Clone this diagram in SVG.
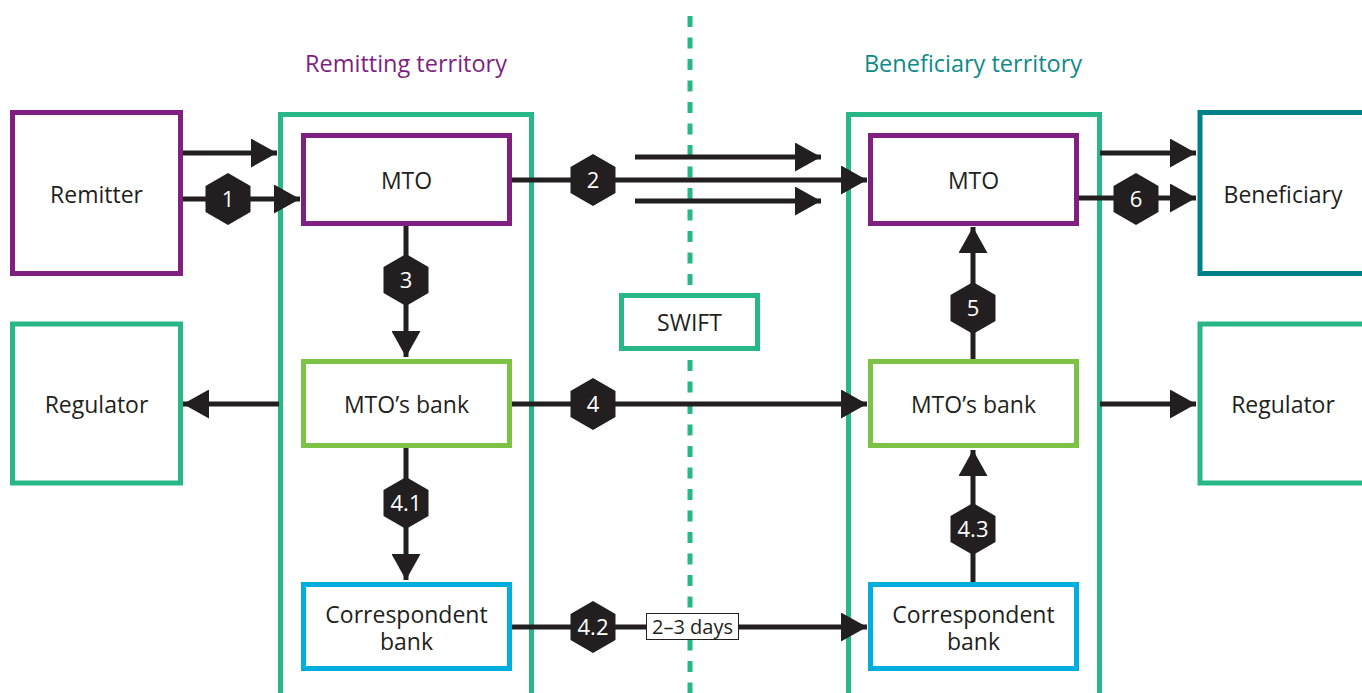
<svg xmlns="http://www.w3.org/2000/svg" xmlns:xlink="http://www.w3.org/1999/xlink" width="1362" height="693" viewBox="0 0 1362 693">
  <style>
    .box { fill: #ffffff; stroke-width: 5; }
    .purple { stroke: #7f1f80; }
    .green { stroke: #28b888; }
    .lime { stroke: #7cc244; }
    .cyan { stroke: #00aedd; }
    .teal { stroke: #008087; }
    .zone { fill: none; stroke: #28b888; stroke-width: 5; }
    .label { font-family: "Open Sans", "Noto Sans", sans-serif; font-size: 23px; fill: #231f20; text-anchor: middle; }
    .title { font-family: "Open Sans", "Noto Sans", sans-serif; font-size: 23.5px; text-anchor: middle; }
    .flow { fill: none; stroke: #231f20; stroke-width: 5; marker-end: url(#head); }
    .badge { fill: #231f20; }
    .num { font-family: "Open Sans", "Noto Sans", sans-serif; font-size: 22px; fill: #ffffff; text-anchor: middle; }
    .divider { stroke: #28b888; stroke-width: 5; stroke-dasharray: 11 10.5; }
  </style>
  <defs>
    <marker id="head" markerUnits="userSpaceOnUse" viewBox="0 0 26 29" refX="26" refY="14.5" markerWidth="26" markerHeight="29" orient="auto">
      <path d="M0,0 L26,14.5 L0,29 Z" fill="#231f20"/>
    </marker>
    <path id="hex" d="M0,-26 L22.5,-13 L22.5,13 L0,26 L-22.5,13 L-22.5,-13 Z"/>
  </defs>

  <rect width="1362" height="693" fill="#ffffff"/>

  <!-- territory divider -->
  <line class="divider" x1="690" y1="16" x2="690" y2="693"/>

  <!-- territory headings -->
  <text class="title" x="406" y="72" fill="#7f1f80">Remitting territory</text>
  <text class="title" x="973" y="72" fill="#0f8a88">Beneficiary territory</text>

  <!-- territory containers -->
  <g id="remitting-territory">
    <rect class="zone" x="280.5" y="114.5" width="251" height="600"/>
  </g>
  <g id="beneficiary-territory">
    <rect class="zone" x="848.5" y="114.5" width="251" height="600"/>
  </g>

  <!-- connectors -->
  <g id="connectors">
    <path class="flow" d="M181,153 H277"/>
    <path class="flow" d="M181,199 H300"/>
    <path class="flow" d="M511,180 H867"/>
    <path class="flow" d="M635,157 H821"/>
    <path class="flow" d="M635,201 H821"/>
    <path class="flow" d="M1100,153 H1196"/>
    <path class="flow" d="M1077,198 H1196"/>
    <path class="flow" d="M406,225 V357"/>
    <path class="flow" d="M279,404 H183"/>
    <path class="flow" d="M511,404 H867"/>
    <path class="flow" d="M1100,404 H1196"/>
    <path class="flow" d="M406,448 V580"/>
    <path class="flow" d="M511,627 H867"/>
    <path class="flow" d="M973,582 V450"/>
    <path class="flow" d="M973,359 V227"/>

    <!-- step badges -->
    <g class="badge">
      <use xlink:href="#hex" x="228" y="199"/>
      <use xlink:href="#hex" x="593" y="180"/>
      <use xlink:href="#hex" x="406" y="280"/>
      <use xlink:href="#hex" x="593" y="404"/>
      <use xlink:href="#hex" x="406" y="503"/>
      <use xlink:href="#hex" x="593" y="627"/>
      <use xlink:href="#hex" x="973" y="529"/>
      <use xlink:href="#hex" x="973" y="308"/>
      <use xlink:href="#hex" x="1136" y="199"/>
    </g>
    <text class="num" x="228" y="207">1</text>
    <text class="num" x="593" y="188">2</text>
    <text class="num" x="406" y="288">3</text>
    <text class="num" x="593" y="412">4</text>
    <text class="num" x="406" y="511">4.1</text>
    <text class="num" x="593" y="635">4.2</text>
    <text class="num" x="973" y="537">4.3</text>
    <text class="num" x="973" y="316">5</text>
    <text class="num" x="1136" y="207">6</text>

    <!-- transfer time note -->
    <rect x="646.5" y="613.5" width="92" height="26" fill="#ffffff" stroke="#231f20" stroke-width="1"/>
    <text x="692.5" y="634" font-family="'Open Sans', 'Noto Sans', sans-serif" font-size="20" fill="#231f20" text-anchor="middle">2–3 days</text>
  </g>

  <!-- remitting side -->
  <g id="remitter">
    <rect class="box purple" x="12.5" y="112.5" width="168" height="161"/>
    <text class="label" x="96.5" y="203">Remitter</text>
  </g>
  <g id="regulator-remitting">
    <rect class="box green" x="12.5" y="324" width="168" height="159"/>
    <text class="label" x="96.5" y="413">Regulator</text>
  </g>
  <g id="mto-remitting">
    <rect class="box purple" x="303.5" y="135.5" width="206" height="88"/>
    <text class="label" x="406.5" y="189">MTO</text>
  </g>
  <g id="mto-bank-remitting">
    <rect class="box lime" x="303.5" y="361.5" width="206" height="84"/>
    <text class="label" x="406.5" y="413">MTO’s bank</text>
  </g>
  <g id="correspondent-remitting">
    <rect class="box cyan" x="303.5" y="584.5" width="206" height="84"/>
    <text class="label" x="406.5" y="623">Correspondent</text>
    <text class="label" x="406.5" y="650">bank</text>
  </g>

  <!-- messaging network -->
  <g id="swift">
    <rect class="box green" x="621.5" y="295.5" width="136" height="53"/>
    <text class="label" x="689.5" y="331">SWIFT</text>
  </g>

  <!-- beneficiary side -->
  <g id="mto-beneficiary">
    <rect class="box purple" x="870.5" y="135.5" width="206" height="88"/>
    <text class="label" x="973.5" y="189">MTO</text>
  </g>
  <g id="mto-bank-beneficiary">
    <rect class="box lime" x="870.5" y="361.5" width="206" height="84"/>
    <text class="label" x="973.5" y="413">MTO’s bank</text>
  </g>
  <g id="correspondent-beneficiary">
    <rect class="box cyan" x="870.5" y="584.5" width="206" height="84"/>
    <text class="label" x="973.5" y="623">Correspondent</text>
    <text class="label" x="973.5" y="650">bank</text>
  </g>
  <g id="beneficiary">
    <rect class="box teal" x="1200" y="112.5" width="180" height="161"/>
    <text class="label" x="1283" y="203">Beneficiary</text>
  </g>
  <g id="regulator-beneficiary">
    <rect class="box green" x="1200" y="324" width="180" height="159"/>
    <text class="label" x="1283" y="413">Regulator</text>
  </g>
</svg>
